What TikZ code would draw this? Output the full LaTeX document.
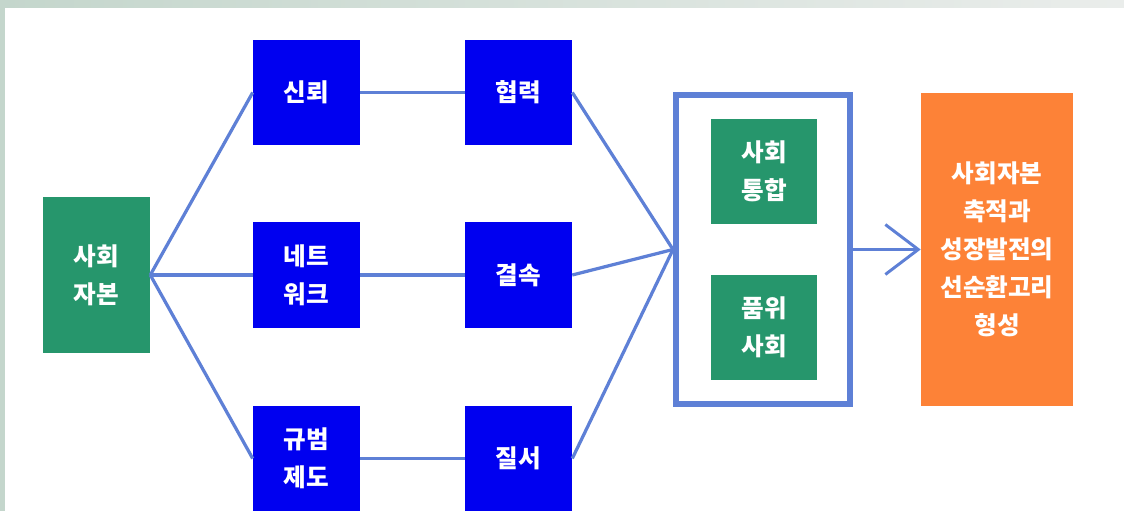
\documentclass[tikz,border=0pt]{standalone}
\usepackage{fontspec}
\setmainfont{Noto Sans CJK KR}[BoldFont={Noto Sans CJK KR Black}]
\usetikzlibrary{arrows.meta}
\definecolor{boxgreen}{RGB}{38,150,108}
\definecolor{boxblue}{RGB}{0,0,240}
\definecolor{boxorange}{RGB}{253,130,55}
\definecolor{linkblue}{RGB}{94,128,214}
\definecolor{paper}{RGB}{234,237,235}
\definecolor{papergreen}{RGB}{196,214,204}
\tikzset{
  >={Straight Barb[length=23.4pt,width=35.5pt,line width=2.1pt]},
  box/.style={rectangle,inner sep=0pt,align=center,text=white,
    font=\fontsize{17.5}{27}\selectfont\bfseries},
  greenbox/.style={box,fill=boxgreen,minimum width=2.675cm,minimum height=2.625cm},
  bluebox/.style={box,fill=boxblue,minimum width=2.675cm,minimum height=2.625cm},
  link/.style={draw=linkblue,line width=2.3pt}
}

\begin{document}
\begin{tikzpicture}[x=0.025cm,y=-0.025cm]
% paper and white sheet
\useasboundingbox (0,0) rectangle (1124,511);
\shade[left color=papergreen,right color=paper] (0,0) rectangle (1124,511);
\fill[white] (5,8) rectangle (1124,511);

% left node
\node[greenbox,minimum height=3.875cm] (capital) at (96.5,275) {사회\\자본};

% two columns of blue boxes
\node[bluebox] (trust) at (306.5,92.5) {신뢰};
\node[bluebox] (network) at (306.5,275) {네트\\워크};
\node[bluebox] (norm) at (306.5,458.5) {규범\\제도};
\node[bluebox] (coop) at (518.5,92.5) {협력};
\node[bluebox] (bond) at (518.5,275) {결속};
\node[bluebox] (order) at (518.5,458.5) {질서};

% frame with the two outcomes
\node[draw=linkblue,line width=4.25pt,minimum width=4.35cm,minimum height=7.725cm,inner sep=0pt]
  (frame) at (763,249.5) {};
\node[greenbox,minimum width=2.65cm] (integ) at (764,171.5) {사회\\통합};
\node[greenbox,minimum width=2.65cm] (dignity) at (764,327.5) {품위\\사회};

% result
\node[box,fill=boxorange,minimum width=3.8cm,minimum height=7.825cm] (cycle) at (997,249.5)
  {사회자본\\축적과\\성장발전의\\선순환고리\\형성};

% connectors
\foreach \n in {trust,network,norm}
  \draw[link] (capital.east) -- (\n.west);
\draw[link] (trust) -- (coop);
\draw[link] (network) -- (bond);
\draw[link] (norm) -- (order);
\foreach \n in {coop,bond,order}
  \draw[link] (\n.east) -- (frame.west);
\draw[link,->] (frame.east) -- (cycle.west);
\end{tikzpicture}
\end{document}
